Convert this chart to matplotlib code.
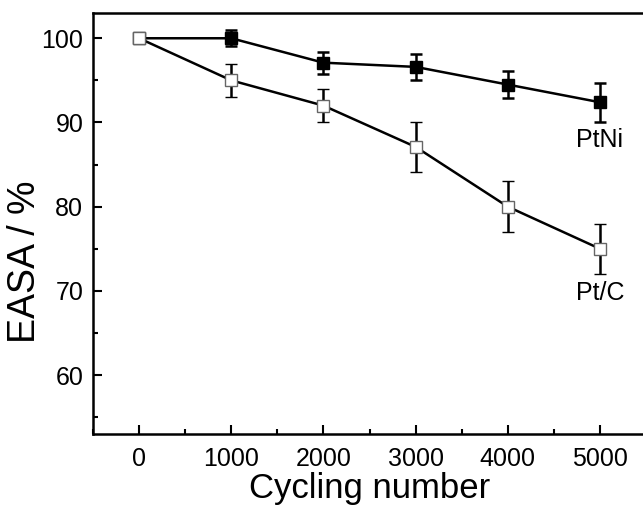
import matplotlib
matplotlib.use("Agg")
import matplotlib.pyplot as plt
from matplotlib.ticker import MultipleLocator

plt.rcParams["font.family"] = ["Liberation Sans", "DejaVu Sans"]

cycles = [0, 1000, 2000, 3000, 4000, 5000]
ptni = [100, 100, 97.1, 96.6, 94.5, 92.4]
ptni_err = [0, 0.95, 1.3, 1.5, 1.65, 2.3]
ptc = [100, 95.0, 92.0, 87.1, 80.0, 75.0]
ptc_err = [0, 2.0, 2.0, 3.0, 3.0, 3.0]

fig = plt.figure(figsize=(6.43, 5.08), dpi=100)
ax = fig.add_axes([93 / 643, 74 / 508, 553 / 643, 421 / 508])

ax.errorbar(cycles, ptni, yerr=ptni_err, color="black", lw=1.8,
            marker="s", ms=8.5, mfc="black", mec="black",
            ecolor="black", elinewidth=1.8, capsize=4.5, capthick=1.8)
ax.errorbar(cycles, ptc, yerr=ptc_err, color="black", lw=1.8,
            marker="s", ms=8.5, mfc="white", mec="#666666", mew=1.0,
            ecolor="black", elinewidth=1.8, capsize=4.5, capthick=1.8)

ax.text(5000, 87.9, "PtNi", fontsize=18, ha="center", va="center")
ax.text(5000, 69.8, "Pt/C", fontsize=18, ha="center", va="center")

ax.set_xlim(-500, 5500)
ax.set_ylim(53, 103)
ax.set_xticks(cycles)
ax.set_yticks([60, 70, 80, 90, 100])
ax.xaxis.set_minor_locator(MultipleLocator(500))
ax.yaxis.set_minor_locator(MultipleLocator(5))
ax.tick_params(which="both", direction="in", top=False, right=False,
               width=1.5, labelsize=18)
ax.tick_params(which="major", length=6.5)
ax.tick_params(which="minor", length=3.5)
ax.tick_params(axis="x", pad=9)
ax.tick_params(axis="y", pad=7)
for s in ax.spines.values():
    s.set_linewidth(1.8)

ax.set_xlabel("Cycling number", fontsize=25, va="baseline")
ax.xaxis.set_label_coords(0.5, -0.153, transform=ax.transAxes)
ax.set_ylabel("EASA / %", fontsize=27)
ax.yaxis.set_label_coords(-0.123, 0.41, transform=ax.transAxes)
ax.yaxis.label.set_va("center")

fig.savefig("out.png", dpi=100)
